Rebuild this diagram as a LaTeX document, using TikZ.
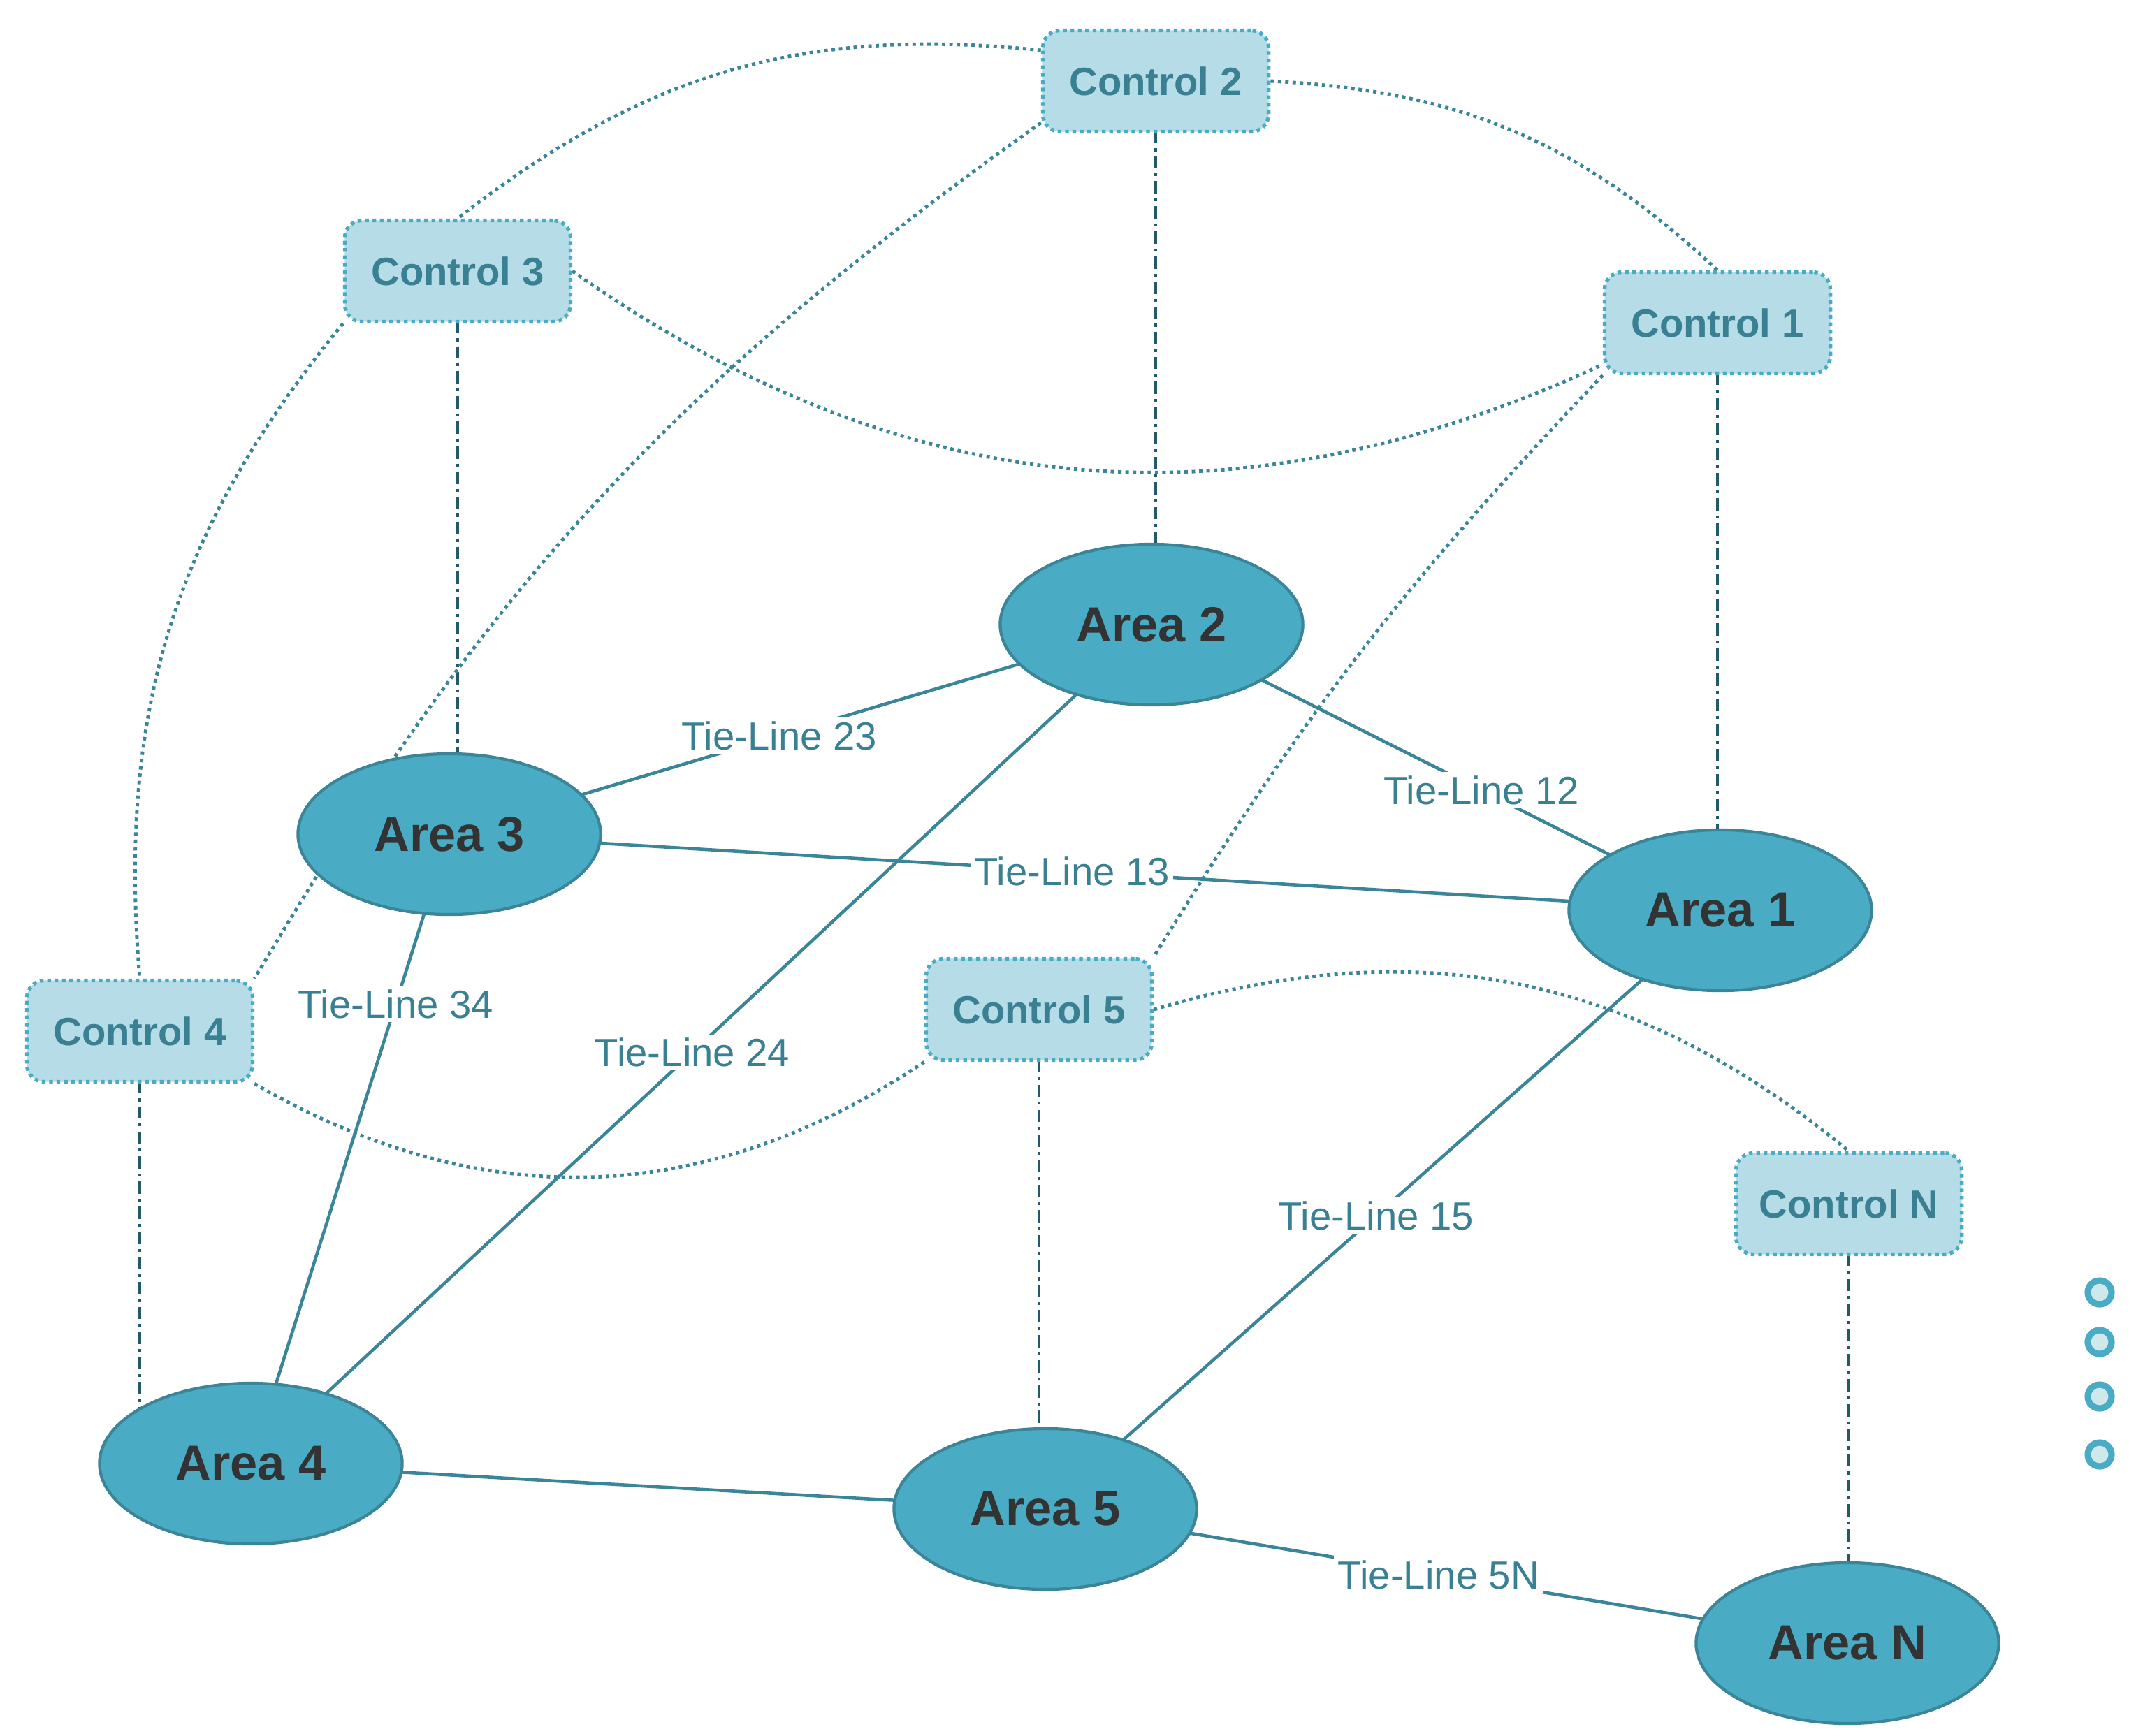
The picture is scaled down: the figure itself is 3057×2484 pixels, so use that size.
\documentclass[tikz,border=0pt]{standalone}
\usepackage{fontspec}
\setmainfont{Liberation Sans}
\usetikzlibrary{shapes.geometric,backgrounds}
\definecolor{areafill}{HTML}{4AABC4}
\definecolor{areaedge}{HTML}{3A8597}
\definecolor{ctrlfill}{HTML}{B5DCE7}
\definecolor{ctrltext}{HTML}{3A8093}
\definecolor{dark}{HTML}{245A68}
\definecolor{dotfill}{HTML}{CFE8EB}
\tikzset{
 area/.style={ellipse,draw=areaedge,fill=areafill,line width=1.2pt,minimum width=4.33cm,minimum height=2.3cm,inner sep=0pt,text=black!80,font=\fontsize{20}{24}\selectfont\bfseries},
 ctrl/.style={rectangle,rounded corners=0.25cm,draw=areafill,fill=ctrlfill,line width=1.5pt,dash pattern=on 1.5pt off 1.5pt,minimum width=3.23cm,minimum height=1.45cm,inner sep=0pt,text=ctrltext,font=\fontsize{16}{19}\selectfont\bfseries},
 tie/.style={draw=areaedge,line width=1.3pt},
 tlab/.style={fill=white,text=ctrltext,inner sep=1.5pt,font=\fontsize{16}{19}\selectfont},
 vlink/.style={draw=dark,line width=1.1pt,dash pattern=on 5pt off 2pt on 1.2pt off 2pt},
 clink/.style={draw=areaedge,line width=1.4pt,dash pattern=on 1.4pt off 1.6pt},
 ell/.style={circle,draw=areafill,fill=dotfill,line width=2.6pt,minimum size=0.34cm,inner sep=0pt}
}
\begin{document}
\begin{tikzpicture}[x=0.01cm,y=-0.01cm]
\useasboundingbox (0,0) rectangle (3057,2484);
\node[area] (a1) at (2462,1303) {Area 1};
\node[area] (a2) at (1648,894) {Area 2};
\node[area] (a3) at (643,1194) {Area 3};
\node[area] (a4) at (359,2095) {Area 4};
\node[area] (a5) at (1496,2160) {Area 5};
\node[area] (aN) at (2644,2352) {Area N};
\node[ctrl] (c1) at (2458,462) {Control 1};
\node[ctrl] (c2) at (1654,116) {Control 2};
\node[ctrl] (c3) at (655,388) {Control 3};
\node[ctrl] (c4) at (200,1476) {Control 4};
\node[ctrl] (c5) at (1487,1445) {Control 5};
\node[ctrl] (cN) at (2646,1723) {Control N};
\node[ell] (e1) at (3005,1850) {};
\node[ell] (e2) at (3005,1921) {};
\node[ell] (e3) at (3005,1999) {};
\node[ell] (e4) at (3005,2082) {};
\begin{pgfonlayer}{background}
\draw[tie] (a2.center) -- node[tlab,pos=0.53]{Tie-Line 23} (a3.center);
\draw[tie] (a2.center) -- node[tlab,pos=0.58]{Tie-Line 12} (a1.center);
\draw[tie] (a3.center) -- node[tlab,pos=0.49]{Tie-Line 13} (a1.center);
\draw[tie] (a3.center) -- node[tlab,pos=0.27]{Tie-Line 34} (a4.center);
\draw[tie] (a2.center) -- node[tlab,pos=0.51]{Tie-Line 24} (a4.center);
\draw[tie] (a1.center) -- node[tlab,pos=0.51]{Tie-Line 15} (a5.center);
\draw[tie] (a4.center) -- (a5.center);
\draw[tie] (a5.center) -- node[tlab,pos=0.49]{Tie-Line 5N} (aN.center);
\draw[vlink] (c1.center) -- (c1.center |- a1.center);
\draw[vlink] (c2.center) -- (c2.center |- a2.center);
\draw[vlink] (c3.center) -- (c3.center |- a3.center);
\draw[vlink] (c4.center) -- (c4.center |- a4.center);
\draw[vlink] (c5.center) -- (c5.center |- a5.center);
\draw[vlink] (cN.center) -- (cN.center |- aN.center);
\draw[clink] (c2.165) to[bend right=22] (c3.north);
\draw[clink] (c2.east) to[bend left=20] (c1.north);
\draw[clink] (c3.east) to[bend right=30] (c1.200);
\draw[clink] (c2.200) to[bend right=12] (c4.north east);
\draw[clink] (c3.south west) to[bend right=22] (c4.north);
\draw[clink] (c1.south west) to[bend right=6] (c5.north east);
\draw[clink] (c4.south east) to[bend right=32] (c5.south west);
\draw[clink] (c5.east) to[bend left=28] (cN.north);
\end{pgfonlayer}
\end{tikzpicture}
\end{document}
